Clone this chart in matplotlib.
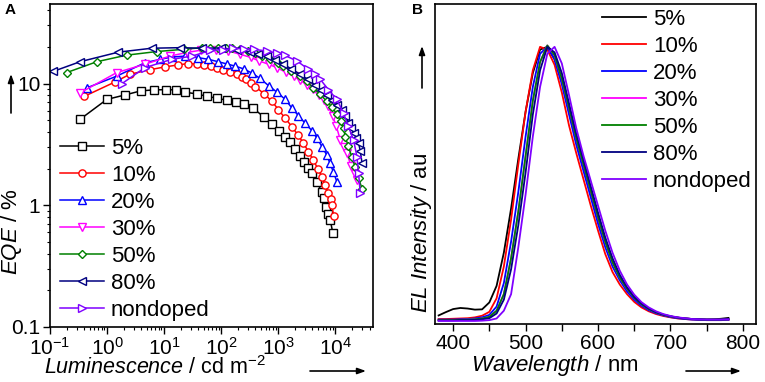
import matplotlib
matplotlib.use("Agg")
import matplotlib.pyplot as plt
from matplotlib import ticker

plt.rcParams["font.family"] = ["Liberation Sans", "DejaVu Sans"]
plt.rcParams["mathtext.fontset"] = "custom"
plt.rcParams["mathtext.rm"] = "Liberation Sans"
plt.rcParams["mathtext.it"] = "Liberation Sans:italic"
plt.rcParams["mathtext.bf"] = "Liberation Sans:bold"

# ---- panel A: EQE vs luminescence ----
labels = ["5%", "10%", "20%", "30%", "50%", "80%", "nondoped"]
colors = ["black", "#ff0000", "#0000ff", "#ff00ff", "#008000", "#000080", "#7f00ff"]
markers = ["s", "o", "^", "v", "D", "<", ">"]

lum_5 = [0.34, 0.99, 2.07, 3.9, 6.7, 10.7, 16, 23.7, 37.5, 56, 86, 126, 181, 253, 360,
         575, 795, 1040, 1310, 1625, 1990, 2430, 2890, 3400, 3980, 4780, 5780, 6300,
         6870, 7540, 8170, 9100]
eqe_5 = [5.1, 7.4, 8.06, 8.7, 8.87, 8.9, 8.87, 8.47, 8.22, 7.85, 7.57, 7.28, 7.1, 6.75,
         6.3, 5.26, 4.64, 4.09, 3.65, 3.28, 2.9, 2.56, 2.26, 2.04, 1.83, 1.56, 1.29, 1.14,
         0.97, 0.85, 0.76, 0.59]

lum_10 = [0.4, 1.38, 2.5, 5.7, 10.4, 17.4, 26.7, 38.5, 50, 66, 86, 110, 144, 188, 230,
          277, 330, 397, 576, 776, 1012, 1320, 1740, 2210, 2770, 3390, 4130, 4950, 5860,
          6630, 7580, 8300, 8750, 9400]
eqe_10 = [7.85, 10.3, 11.9, 13.0, 13.7, 14.2, 14.6, 14.4, 14.1, 13.9, 13.5, 12.9, 12.4,
          11.9, 11.4, 10.8, 10.1, 9.4, 8.2, 7.15, 6.1, 5.2, 4.43, 3.79, 3.24, 2.76, 2.35,
          2.0, 1.71, 1.46, 1.25, 1.12, 1.0, 0.81]

lum_20 = [0.44, 1.48, 4.6, 8.5, 13.6, 23.4, 40, 60, 89, 125, 176, 247, 345, 483, 680,
          950, 1330, 1740, 2270, 2960, 3890, 4780, 5860, 7100, 8100, 9300, 10700]
eqe_20 = [9.2, 11.5, 14.8, 15.8, 16.5, 16.8, 16.3, 15.8, 15.1, 14.5, 13.9, 13.2, 12.2,
          11.0, 9.6, 8.5, 7.4, 6.3, 5.44, 4.73, 4.11, 3.56, 3.03, 2.59, 2.21, 1.88, 1.56]

lum_30 = [0.34, 1.48, 4.6, 12.7, 25, 45, 80, 130, 214, 330, 470, 680, 950, 1350, 1860,
          2450, 3160, 4100, 5100, 6300, 7600, 9000, 10400, 12300, 14000, 16000, 19000,
          22000, 24000]
eqe_30 = [8.4, 12.3, 14.4, 16.8, 18.0, 18.8, 18.9, 18.6, 17.4, 16.4, 15.3, 14.4, 13.5,
          12.4, 11.5, 10.6, 9.8, 9.0, 8.1, 7.3, 6.5, 5.4, 4.5, 3.44, 3.0, 2.67, 2.1, 1.8,
          1.61]

lum_50 = [0.196, 0.66, 2.2, 7.4, 22, 46, 65, 89, 120, 155, 215, 302, 400, 530, 720, 1000,
          1230, 1700, 2430, 3200, 4130, 5400, 7100, 8800, 10700, 12500, 14000, 15000,
          17000, 19500, 22300, 25700, 29600]
eqe_50 = [12.3, 15.1, 17.1, 18.3, 19.1, 19.7, 19.6, 19.5, 19.6, 19.7, 19.2, 18.5, 17.7,
          16.8, 15.8, 14.8, 13.9, 12.7, 11.5, 10.4, 9.2, 8.2, 7.15, 6.4, 5.6, 4.9, 4.3,
          3.67, 3.04, 2.51, 2.07, 1.66, 1.37]

lum_80 = [0.115, 0.336, 1.58, 6.1, 19, 46, 100, 190, 323, 450, 630, 880, 1230, 1700,
          2430, 3300, 4470, 5700, 7100, 8800, 10800, 13100, 15000, 17000, 19000, 21000,
          23300, 25700, 27500, 29600]
eqe_80 = [12.6, 15.1, 18.1, 19.5, 19.7, 19.5, 19.6, 19.0, 18.0, 17.4, 16.8, 15.6, 14.4,
          13.2, 11.9, 10.8, 9.7, 8.8, 8.0, 7.3, 6.7, 6.1, 5.4, 4.73, 4.3, 3.92, 3.6, 3.24,
          2.8, 2.21]

lum_nd = [1.81, 4.6, 13.6, 31, 65, 110, 164, 250, 370, 630, 950, 1320, 2140, 3390, 4400,
          5500, 7600, 10700, 14000, 17000, 21000, 24000, 25700, 27500]
eqe_nd = [9.95, 13.5, 15.8, 16.8, 18.7, 19.0, 19.4, 19.3, 19.1, 18.5, 17.8, 17.0, 15.3,
          13.1, 12.0, 10.8, 8.9, 7.4, 5.7, 4.44, 3.44, 2.51, 1.83, 1.25]

lum_all = [lum_5, lum_10, lum_20, lum_30, lum_50, lum_80, lum_nd]
eqe_all = [eqe_5, eqe_10, eqe_20, eqe_30, eqe_50, eqe_80, eqe_nd]

# ---- panel B: EL spectra (normalised) ----
wl = list(range(380, 781, 10))
el_5 = [.023, .035, .046, .050, .048, .044, .045, .070, .13, .25, .41, .59, .76, .90, .985,
        .995, .95, .87, .76, .66, .565, .47, .375, .29, .22, .165, .12, .088, .064, .047,
        .034, .025, .019, .015, .012, .010, .009, .008, .009, .011, .014]
el_10 = [.010, .010, .011, .012, .013, .016, .022, .036, .085, .20, .37, .57, .76, .91, .995,
         .985, .93, .83, .71, .61, .515, .42, .33, .245, .18, .135, .10, .072, .052, .038,
         .028, .021, .016, .012, .010, .008, .007, .006, .006, .006, .007]
el_20 = [.008, .008, .008, .009, .010, .012, .016, .025, .055, .14, .29, .47, .67, .85, .97,
         .995, .95, .86, .75, .64, .545, .45, .355, .27, .20, .15, .11, .08, .058, .042,
         .031, .023, .017, .013, .010, .008, .007, .006, .006, .006, .007]
el_30 = [.006, .006, .006, .007, .008, .009, .012, .018, .040, .10, .23, .40, .60, .80, .94,
         1.0, .965, .88, .775, .665, .57, .475, .38, .29, .215, .16, .12, .087, .063, .046,
         .034, .025, .019, .015, .012, .010, .009, .008, .008, .008, .009]
el_50 = [.006, .006, .006, .007, .008, .009, .012, .018, .040, .10, .23, .40, .60, .80, .94,
         1.0, .965, .88, .775, .665, .57, .475, .38, .29, .215, .16, .12, .087, .063, .046,
         .034, .025, .019, .015, .012, .010, .009, .008, .008, .008, .009]
el_80 = [.005, .005, .005, .006, .006, .007, .009, .013, .030, .08, .19, .35, .54, .75, .91,
         .995, .975, .90, .79, .68, .585, .49, .395, .305, .23, .17, .125, .09, .066, .048,
         .035, .026, .020, .015, .012, .010, .009, .008, .008, .008, .010]
el_nd = [.003, .003, .003, .003, .003, .003, .004, .006, .012, .040, .10, .27, .46, .67, .85,
         .97, .995, .935, .82, .70, .60, .51, .42, .33, .25, .185, .135, .098, .071, .052,
         .038, .028, .021, .016, .013, .010, .009, .008, .008, .008, .009]
el_all = [el_5, el_10, el_20, el_30, el_50, el_80, el_nd]

W, H = 765, 382
fig = plt.figure(figsize=(W / 100, H / 100), dpi=100)
axA = fig.add_axes([50 / W, 1 - 327 / H, 323 / W, 323 / H])
axB = fig.add_axes([435 / W, 1 - 324 / H, 321 / W, 320 / H])

for lum, eqe, c, m, lab in zip(lum_all, eqe_all, colors, markers, labels):
    ms = 4.2 if m == "D" else 5.2
    axA.plot(lum, eqe, color=c, marker=m, ms=ms, mfc="white", mec=c, mew=1.0,
             lw=1.1, label=lab)

axA.set_xscale("log")
axA.set_yscale("log")
axA.set_xlim(0.1, 46000)
axA.set_ylim(0.1, 45)
axA.yaxis.set_major_locator(ticker.FixedLocator([0.1, 1, 10]))
axA.yaxis.set_major_formatter(ticker.FuncFormatter(lambda v, p: f"{v:g}"))
axA.tick_params(which="major", direction="out", length=5, width=1, labelsize=15,
                pad=2, top=False, right=False)
axA.tick_params(which="minor", direction="out", length=2.5, width=0.8,
                top=False, right=False)
axA.legend(loc="upper left", bbox_to_anchor=(0.03, 0.585), frameon=False,
           fontsize=16, numpoints=1, handlelength=2.0, handletextpad=0.3,
           labelspacing=0.27, borderaxespad=0, borderpad=0)

for ys, c, lab in zip(el_all, colors, labels):
    axB.plot(wl, ys, color=c, lw=1.3, label=lab)

axB.set_xlim(375, 818)
axB.set_ylim(-0.008, 1.15)
axB.set_yticks([])
axB.xaxis.set_major_locator(ticker.MultipleLocator(100))
axB.xaxis.set_minor_locator(ticker.MultipleLocator(50))
axB.tick_params(axis="x", which="both", direction="out", length=5, width=1,
                labelsize=15, pad=2)
axB.legend(loc="upper left", bbox_to_anchor=(0.52, 0.985), frameon=False,
           fontsize=16, handlelength=2.0, handletextpad=0.3,
           labelspacing=0.27, borderaxespad=0, borderpad=0)

for ax in (axA, axB):
    for s in ax.spines.values():
        s.set_linewidth(1.2)

# axis titles (Origin style, with arrows)
fig.text(155 / W, 1 - 368 / H, r"$\it{Luminescence}$ / cd m$^{-2}$", fontsize=15.5,
         ha="center", va="center")
fig.text(11 / W, 1 - 232 / H, r"$\it{EQE}$ / %", fontsize=16, rotation=90,
         ha="center", va="center")
fig.text(555 / W, 1 - 365 / H, r"$\it{Wavelength}$ / nm", fontsize=16,
         ha="center", va="center")
fig.text(421 / W, 1 - 233 / H, r"$\it{EL\ Intensity}$ / au", fontsize=16, rotation=90,
         ha="center", va="center")

arrow = dict(arrowstyle="-|>,head_length=0.5,head_width=0.18", color="black", lw=1.2,
             shrinkA=0, shrinkB=0)
for (x0, y0, x1, y1) in [(11, 113, 11, 74), (310, 371, 366, 371),
                         (422, 88, 422, 46), (686, 371, 741, 371)]:
    fig.add_artist(plt.Annotation("", xy=(x1 / W, 1 - y1 / H), xytext=(x0 / W, 1 - y0 / H),
                                  xycoords="figure fraction", textcoords="figure fraction",
                                  arrowprops=arrow))

fig.text(5 / W, 1 - 10 / H, "A", fontsize=11, fontweight="bold", va="center")
fig.text(412 / W, 1 - 10 / H, "B", fontsize=11, fontweight="bold", va="center")

fig.savefig("out.png", dpi=100)
